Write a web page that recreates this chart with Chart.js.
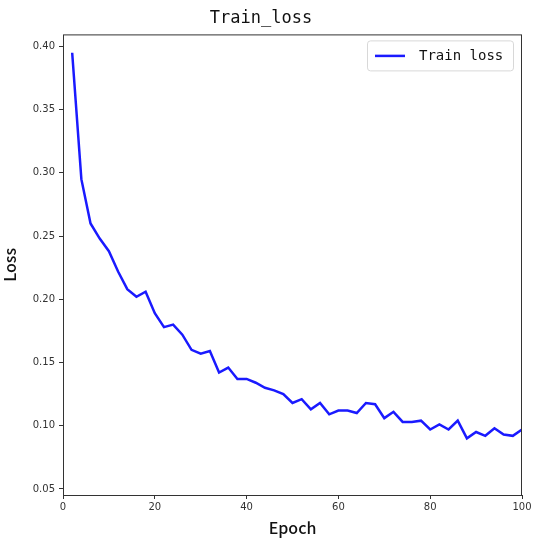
<!DOCTYPE html>
<html>
<head>
<meta charset="utf-8">
<script src="https://cdn.jsdelivr.net/npm/chart.js@4.4.0/dist/chart.umd.min.js"></script>
<style>
  html, body { margin: 0; padding: 0; background: #fff; }
  #wrap { width: 549px; height: 550px; }
</style>
</head>
<body>
<div id="wrap"><canvas id="lossChart" width="549" height="550"></canvas></div>
<script>
// epochs (every 2nd epoch logged)
const epochs = [2, 4, 6, 8, 10, 12, 14, 16, 18, 20, 22, 24, 26, 28, 30, 32, 34, 36, 38, 40,
    42, 44, 46, 48, 50, 52, 54, 56, 58, 60, 62, 64, 66, 68, 70, 72, 74, 76, 78, 80,
    82, 84, 86, 88, 90, 92, 94, 96, 98, 100];
const trainLoss = [0.395, 0.295, 0.260, 0.248, 0.238, 0.222, 0.208, 0.202, 0.206, 0.189,
    0.178, 0.180, 0.172, 0.160, 0.157, 0.159, 0.142, 0.146, 0.137, 0.137,
    0.134, 0.130, 0.128, 0.125, 0.118, 0.121, 0.113, 0.118, 0.109, 0.112,
    0.112, 0.110, 0.118, 0.117, 0.106, 0.111, 0.103, 0.103, 0.104, 0.097,
    0.101, 0.097, 0.104, 0.090, 0.095, 0.092, 0.098, 0.093, 0.092, 0.097];
const yTicks = [0.05, 0.10, 0.15, 0.20, 0.25, 0.30, 0.35, 0.40];
const xTicks = [0, 20, 40, 60, 80, 100];

const lineColor = '#1a1aff';
const tickFont = { family: 'DejaVu Sans', size: 10 };

// matplotlib style box + legend inside the plot
const boxAndLegend = {
    id: 'boxAndLegend',
    afterDraw(chart) {
        const ctx = chart.ctx;
        const a = chart.chartArea;
        ctx.save();
        ctx.strokeStyle = '#333';
        ctx.lineWidth = 1;
        ctx.strokeRect(a.left + 0.5, a.top + 0.5, a.right - a.left - 1, a.bottom - a.top);

        // legend box
        const lw = 146, lh = 30;
        const lx = a.right - lw - 9, ly = a.top + 6;
        ctx.fillStyle = 'rgba(255,255,255,0.85)';
        ctx.strokeStyle = '#d8d8d8';
        ctx.beginPath();
        ctx.roundRect(lx + 0.5, ly + 0.5, lw, lh, 3);
        ctx.fill();
        ctx.stroke();
        ctx.strokeStyle = lineColor;
        ctx.lineWidth = 2.5;
        ctx.beginPath();
        ctx.moveTo(lx + 8, ly + lh / 2 + 0.5);
        ctx.lineTo(lx + 38, ly + lh / 2 + 0.5);
        ctx.stroke();
        ctx.fillStyle = '#111';
        ctx.font = '14px "DejaVu Sans Mono"';
        ctx.textBaseline = 'middle';
        ctx.fillText('Train loss', lx + 52, ly + lh / 2 + 1);
        ctx.restore();
    }
};

const ctx = document.getElementById('lossChart').getContext('2d');
new Chart(ctx, {
    type: 'line',
    data: {
        labels: epochs,
        datasets: [{
            label: 'Train loss',
            data: epochs.map((e, i) => ({ x: e, y: trainLoss[i] })),
            borderColor: lineColor,
            borderWidth: 2.5,
            pointRadius: 0,
            tension: 0,
            fill: false
        }]
    },
    options: {
        responsive: false,
        animation: false,
        layout: { padding: { left: 0, right: 27, top: 0, bottom: 0 } },
        plugins: {
            legend: { display: false },
            tooltip: { enabled: false },
            title: {
                display: true,
                text: 'Train_loss',
                color: '#111',
                font: { family: 'DejaVu Sans Mono', size: 17, weight: 'normal' },
                padding: { top: 8, bottom: 6 }
            }
        },
        scales: {
            x: {
                type: 'linear',
                min: 0,
                max: 100,
                afterBuildTicks: s => { s.ticks = xTicks.map(v => ({ value: v })); },
                afterFit: s => { s.height = 55; },
                grid: { display: true, drawOnChartArea: false, tickLength: 4, color: '#333' },
                border: { display: false },
                ticks: { color: '#333', font: tickFont, padding: 2, maxRotation: 0 },
                title: {
                    display: true,
                    text: 'Epoch',
                    color: '#111',
                    font: { family: 'Noto Sans CJK SC', size: 16, weight: '500' },
                    padding: { top: 0, bottom: 12 }
                }
            },
            y: {
                type: 'linear',
                min: 0.0452,
                max: 0.4095,
                afterBuildTicks: s => { s.ticks = yTicks.map(v => ({ value: v })); },
                afterFit: s => { s.width = 63; },
                grid: { display: true, drawOnChartArea: false, tickLength: 4, color: '#333' },
                border: { display: false },
                ticks: {
                    color: '#333',
                    font: tickFont,
                    padding: 4,
                    callback: v => v.toFixed(2)
                },
                title: {
                    display: true,
                    text: 'Loss',
                    color: '#111',
                    font: { family: 'Noto Sans CJK SC', size: 16, weight: '500' },
                    padding: { top: 0, bottom: 2 }
                }
            }
        }
    },
    plugins: [boxAndLegend]
});
</script>
</body>
</html>
